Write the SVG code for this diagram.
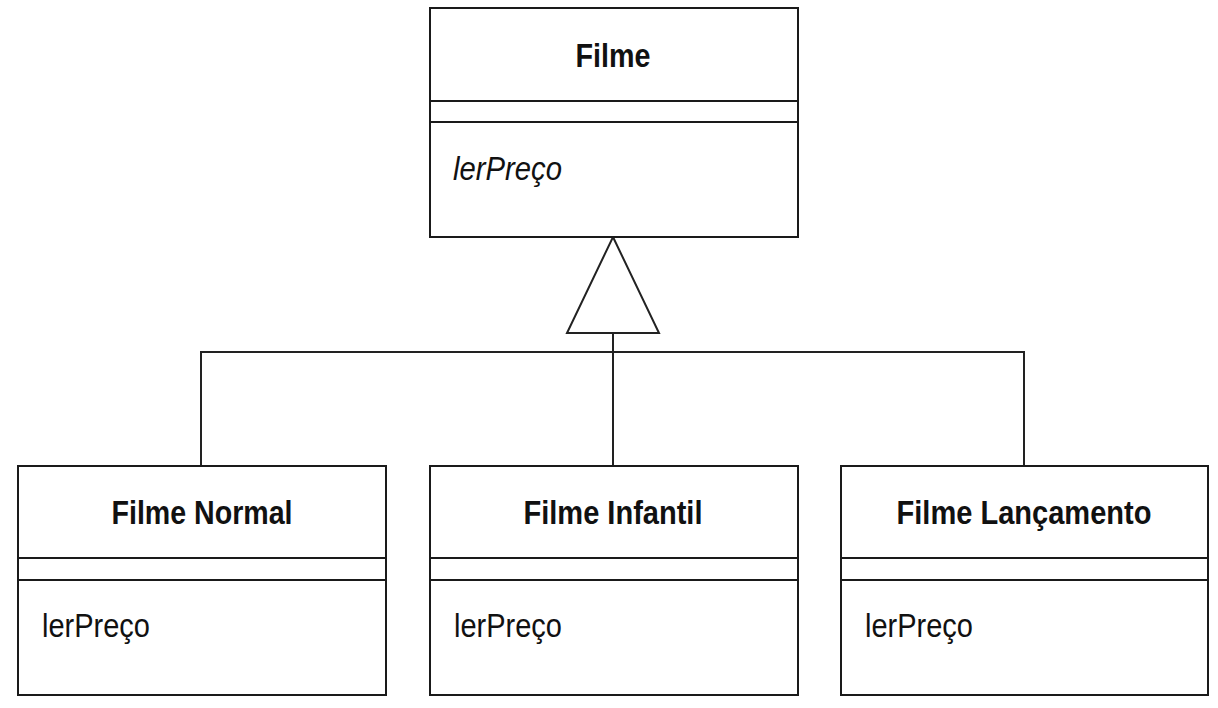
<svg xmlns="http://www.w3.org/2000/svg" width="1218" height="708" viewBox="0 0 1218 708">
<style>
.box{fill:#fff;stroke:#1a1a1a;stroke-width:2}
.div{stroke:#1a1a1a;stroke-width:2}
.title{font-family:"Liberation Sans",Arial,sans-serif;font-weight:bold;font-size:33px;fill:#111;text-anchor:middle}
.op{font-family:"Liberation Sans",Arial,sans-serif;font-size:33px;fill:#111}
.abs{font-style:italic}
.conn{fill:none;stroke:#222;stroke-width:2}
</style>
<rect width="1218" height="708" fill="#fff"/>
<g id="connectors">
<polyline class="conn" points="201,466 201,352 1024,352 1024,466"/>
<line class="conn" x1="613" y1="333" x2="613" y2="466"/>
<polygon class="conn" fill="#fff" points="613,237 659,333 567,333" style="fill:#fff"/>
</g>
<g id="filme">
<rect class="box" x="430" y="8" width="368" height="229"/>
<line class="div" x1="430" y1="101" x2="798" y2="101"/>
<line class="div" x1="430" y1="122" x2="798" y2="122"/>
<text class="title" x="613" y="67" textLength="75" lengthAdjust="spacingAndGlyphs">Filme</text>
<text class="op abs" x="453" y="180" textLength="109" lengthAdjust="spacingAndGlyphs">lerPreço</text>
</g>
<g id="filme-normal">
<rect class="box" x="18" y="466" width="368" height="229"/>
<line class="div" x1="18" y1="558" x2="386" y2="558"/>
<line class="div" x1="18" y1="580" x2="386" y2="580"/>
<text class="title" x="202" y="524" textLength="181" lengthAdjust="spacingAndGlyphs">Filme Normal</text>
<text class="op" x="42" y="637" textLength="108" lengthAdjust="spacingAndGlyphs">lerPreço</text>
</g>
<g id="filme-infantil">
<rect class="box" x="430" y="466" width="368" height="229"/>
<line class="div" x1="430" y1="558" x2="798" y2="558"/>
<line class="div" x1="430" y1="580" x2="798" y2="580"/>
<text class="title" x="613" y="524" textLength="179" lengthAdjust="spacingAndGlyphs">Filme Infantil</text>
<text class="op" x="454" y="637" textLength="108" lengthAdjust="spacingAndGlyphs">lerPreço</text>
</g>
<g id="filme-lancamento">
<rect class="box" x="841" y="466" width="367" height="229"/>
<line class="div" x1="841" y1="558" x2="1208" y2="558"/>
<line class="div" x1="841" y1="580" x2="1208" y2="580"/>
<text class="title" x="1024" y="524" textLength="255" lengthAdjust="spacingAndGlyphs">Filme Lançamento</text>
<text class="op" x="865" y="637" textLength="108" lengthAdjust="spacingAndGlyphs">lerPreço</text>
</g>
</svg>
